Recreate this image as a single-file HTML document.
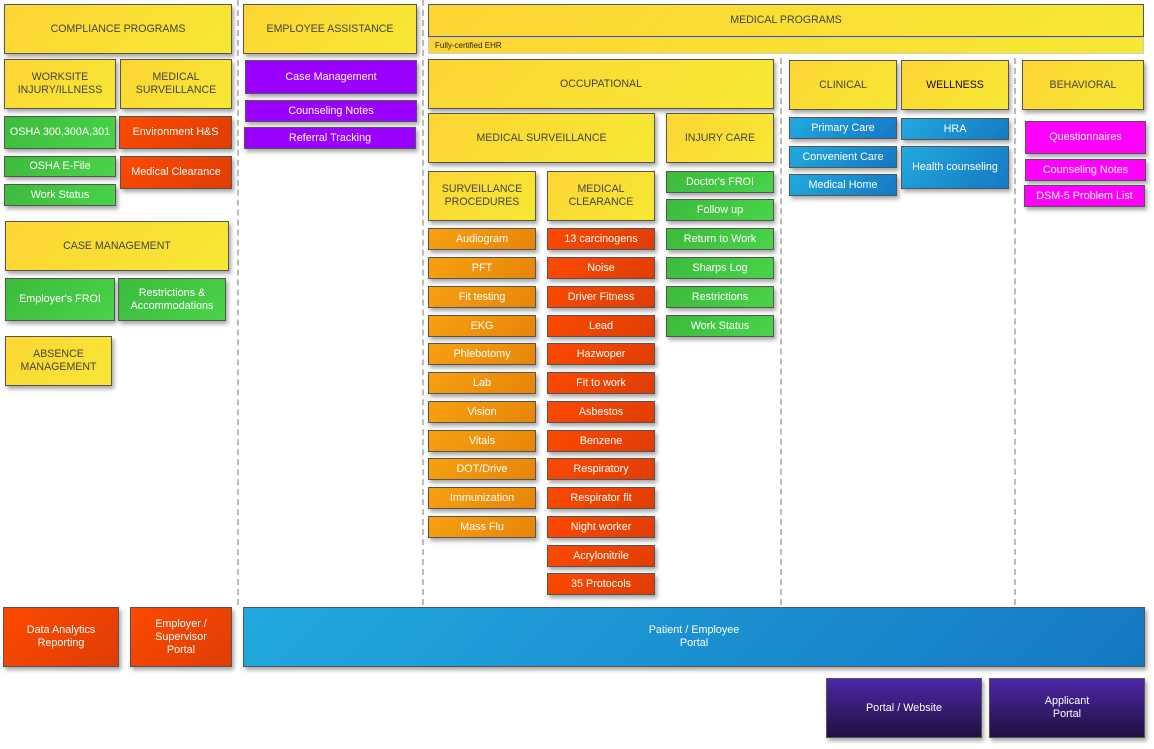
<!DOCTYPE html>
<html><head><meta charset="utf-8"><style>
html,body{margin:0;padding:0;background:#fff;width:1154px;height:749px;overflow:hidden;position:relative;font-family:"Liberation Sans",sans-serif}
.b{position:absolute;box-sizing:border-box;border:1px solid #555;display:flex;align-items:center;justify-content:center;text-align:center;font-size:10.8px;line-height:13px;box-shadow:2px 3px 4px rgba(0,0,0,.35);color:#fff}
.y{background:linear-gradient(135deg,#fdd535,#f6e833);color:#444;font-size:10.6px}
.g{background:linear-gradient(135deg,#3cba3c,#4ad44a)}
.o{background:linear-gradient(135deg,#f8a010,#e6850a)}
.r{background:linear-gradient(135deg,#fc4a02,#df3d04)}
.p{background:#9a00ff}
.bl{background:linear-gradient(135deg,#22a9de,#1578c2)}
.m{background:#ff00ff}
.dp{background:linear-gradient(180deg,#4d27a6,#1f1140)}
.d{position:absolute;width:0;border-left:2px dashed #bbb}
</style></head><body>
<div class="d" style="left:237px;top:0;height:605px"></div>
<div class="d" style="left:422px;top:0;height:605px"></div>
<div class="d" style="left:780px;top:58px;height:547px"></div>
<div class="d" style="left:1014px;top:58px;height:547px"></div>

<div class="b y" style="left:4px;top:4px;width:228px;height:50px">COMPLIANCE PROGRAMS</div>
<div class="b y" style="left:4px;top:59px;width:112px;height:50px">WORKSITE<br>INJURY/ILLNESS</div>
<div class="b y" style="left:120px;top:59px;width:112px;height:50px">MEDICAL<br>SURVEILLANCE</div>
<div class="b g" style="left:4px;top:116px;width:112px;height:33px">OSHA 300,300A,301</div>
<div class="b r" style="left:119px;top:116px;width:113px;height:33px">Environment H&amp;S</div>
<div class="b g" style="left:4px;top:156px;width:112px;height:21px">OSHA E-File</div>
<div class="b r" style="left:120px;top:156px;width:112px;height:33px">Medical Clearance</div>
<div class="b g" style="left:4px;top:184px;width:112px;height:22px">Work Status</div>
<div class="b y" style="left:5px;top:221px;width:224px;height:50px">CASE MANAGEMENT</div>
<div class="b g" style="left:5px;top:278px;width:110px;height:43px">Employer's FROI</div>
<div class="b g" style="left:118px;top:278px;width:108px;height:43px">Restrictions &amp;<br>Accommodations</div>
<div class="b y" style="left:5px;top:336px;width:107px;height:50px">ABSENCE<br>MANAGEMENT</div>

<div class="b y" style="left:243px;top:4px;width:174px;height:50px">EMPLOYEE ASSISTANCE</div>
<div class="b p" style="left:245px;top:60px;width:172px;height:34px">Case Management</div>
<div class="b p" style="left:245px;top:100px;width:172px;height:22px">Counseling Notes</div>
<div class="b p" style="left:244px;top:127px;width:172px;height:22px">Referral Tracking</div>

<div class="b y" style="left:428px;top:4px;width:716px;height:33px;box-shadow:none">MEDICAL PROGRAMS</div>
<div class="b y" style="left:428px;top:37px;width:716px;height:17px;font-size:8px;justify-content:flex-start;padding-left:6px;border-color:#ccc;box-shadow:none;color:#222">Fully-certified EHR</div>
<div class="b y" style="left:428px;top:59px;width:346px;height:50px">OCCUPATIONAL</div>
<div class="b y" style="left:428px;top:113px;width:227px;height:50px">MEDICAL SURVEILLANCE</div>
<div class="b y" style="left:666px;top:113px;width:108px;height:50px">INJURY CARE</div>
<div class="b y" style="left:428px;top:171px;width:108px;height:50px">SURVEILLANCE<br>PROCEDURES</div>
<div class="b y" style="left:547px;top:171px;width:108px;height:50px">MEDICAL<br>CLEARANCE</div>

<div class="b o" style="left:428px;top:228px;width:108px;height:22px">Audiogram</div>
<div class="b o" style="left:428px;top:257px;width:108px;height:22px">PFT</div>
<div class="b o" style="left:428px;top:286px;width:108px;height:22px">Fit testing</div>
<div class="b o" style="left:428px;top:315px;width:108px;height:22px">EKG</div>
<div class="b o" style="left:428px;top:343px;width:108px;height:22px">Phlebotomy</div>
<div class="b o" style="left:428px;top:372px;width:108px;height:22px">Lab</div>
<div class="b o" style="left:428px;top:401px;width:108px;height:22px">Vision</div>
<div class="b o" style="left:428px;top:430px;width:108px;height:22px">Vitals</div>
<div class="b o" style="left:428px;top:458px;width:108px;height:22px">DOT/Drive</div>
<div class="b o" style="left:428px;top:487px;width:108px;height:22px">Immunization</div>
<div class="b o" style="left:428px;top:516px;width:108px;height:22px">Mass Flu</div>

<div class="b r" style="left:547px;top:228px;width:108px;height:22px">13 carcinogens</div>
<div class="b r" style="left:547px;top:257px;width:108px;height:22px">Noise</div>
<div class="b r" style="left:547px;top:286px;width:108px;height:22px">Driver Fitness</div>
<div class="b r" style="left:547px;top:315px;width:108px;height:22px">Lead</div>
<div class="b r" style="left:547px;top:343px;width:108px;height:22px">Hazwoper</div>
<div class="b r" style="left:547px;top:372px;width:108px;height:22px">Fit to work</div>
<div class="b r" style="left:547px;top:401px;width:108px;height:22px">Asbestos</div>
<div class="b r" style="left:547px;top:430px;width:108px;height:22px">Benzene</div>
<div class="b r" style="left:547px;top:458px;width:108px;height:22px">Respiratory</div>
<div class="b r" style="left:547px;top:487px;width:108px;height:22px">Respirator fit</div>
<div class="b r" style="left:547px;top:516px;width:108px;height:22px">Night worker</div>
<div class="b r" style="left:547px;top:545px;width:108px;height:22px">Acrylonitrile</div>
<div class="b r" style="left:547px;top:573px;width:108px;height:22px">35 Protocols</div>

<div class="b g" style="left:666px;top:171px;width:108px;height:22px">Doctor's FROI</div>
<div class="b g" style="left:666px;top:199px;width:108px;height:22px">Follow up</div>
<div class="b g" style="left:666px;top:228px;width:108px;height:22px">Return to Work</div>
<div class="b g" style="left:666px;top:257px;width:108px;height:22px">Sharps Log</div>
<div class="b g" style="left:666px;top:286px;width:108px;height:22px">Restrictions</div>
<div class="b g" style="left:666px;top:315px;width:108px;height:22px">Work Status</div>

<div class="b y" style="left:789px;top:60px;width:108px;height:50px">CLINICAL</div>
<div class="b y" style="left:901px;top:60px;width:108px;height:50px;color:#111">WELLNESS</div>
<div class="b y" style="left:1022px;top:60px;width:122px;height:50px">BEHAVIORAL</div>
<div class="b bl" style="left:789px;top:117px;width:108px;height:22px">Primary Care</div>
<div class="b bl" style="left:789px;top:146px;width:108px;height:22px">Convenient Care</div>
<div class="b bl" style="left:789px;top:174px;width:108px;height:22px">Medical Home</div>
<div class="b bl" style="left:901px;top:118px;width:108px;height:22px">HRA</div>
<div class="b bl" style="left:901px;top:146px;width:108px;height:43px">Health counseling</div>
<div class="b m" style="left:1025px;top:121px;width:121px;height:33px">Questionnaires</div>
<div class="b m" style="left:1025px;top:159px;width:121px;height:22px">Counseling Notes</div>
<div class="b m" style="left:1024px;top:185px;width:121px;height:22px">DSM-5 Problem List</div>

<div class="b r" style="left:3px;top:607px;width:116px;height:60px">Data Analytics<br>Reporting</div>
<div class="b r" style="left:130px;top:607px;width:102px;height:60px">Employer /<br>Supervisor<br>Portal</div>
<div class="b bl" style="left:243px;top:607px;width:902px;height:60px">Patient / Employee<br>Portal</div>
<div class="b dp" style="left:826px;top:678px;width:156px;height:60px">Portal / Website</div>
<div class="b dp" style="left:989px;top:678px;width:156px;height:60px">Applicant<br>Portal</div>
</body></html>
